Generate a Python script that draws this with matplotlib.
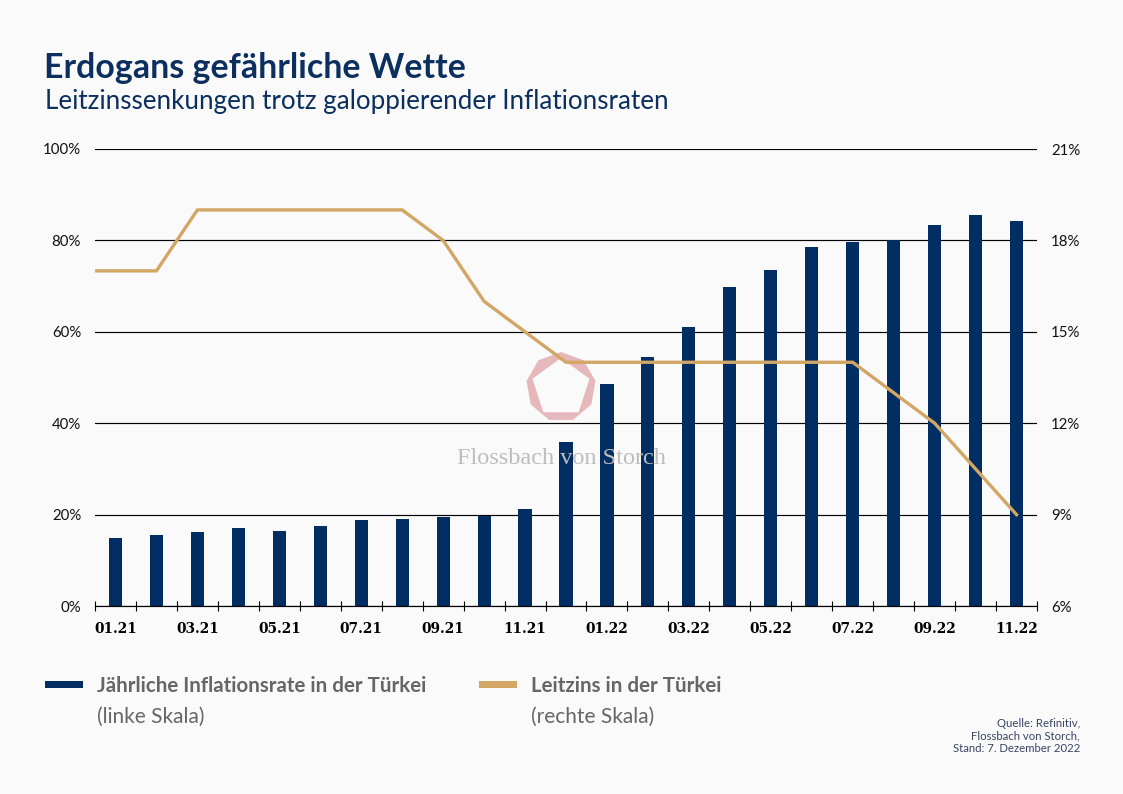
import numpy as np
import matplotlib.pyplot as plt
from matplotlib.patches import RegularPolygon, Rectangle
from matplotlib.transforms import IdentityTransform

# Daten
months = ["01.21", "02.21", "03.21", "04.21", "05.21", "06.21", "07.21", "08.21",
          "09.21", "10.21", "11.21", "12.21", "01.22", "02.22", "03.22", "04.22",
          "05.22", "06.22", "07.22", "08.22", "09.22", "10.22", "11.22"]
inflation = [14.9, 15.6, 16.1, 17.1, 16.5, 17.4, 18.9, 19.1, 19.5, 19.8, 21.2, 35.9,
             48.6, 54.4, 61.1, 69.9, 73.5, 78.5, 79.6, 80.0, 83.4, 85.5, 84.3]
leitzins = [17, 17, 19, 19, 19, 19, 19, 19, 18, 16, 15, 14,
            14, 14, 14, 14, 14, 14, 14, 13, 12, 10.5, 9]
left_ticks = [0, 20, 40, 60, 80, 100]
right_ticks = [6, 9, 12, 15, 18, 21]

navy = "#002d62"
gold = "#d2a664"
bg = "#fafafa"
W, H = 1123, 794

plt.rcParams["font.family"] = ["Lato", "DejaVu Sans"]

fig = plt.figure(figsize=(W / 100, H / 100), dpi=100, facecolor=bg)
ax = fig.add_axes([95 / W, 1 - 606 / H, 942 / W, 457 / H], facecolor=bg)
x = np.arange(len(months))

# Wasserzeichen
ax.add_patch(RegularPolygon((561, H - 387), 9, radius=35, color="#e6b8bb", lw=0,
                            transform=IdentityTransform(), zorder=0.5, clip_on=False))
ax.add_patch(RegularPolygon((561, H - 388), 5, radius=30, color=bg, lw=0,
                            transform=IdentityTransform(), zorder=0.6, clip_on=False))
fig.text(561 / W, 1 - 458.5 / H, "Flossbach von Storch", color="#bdbdbd", fontsize=17.5,
         family="Liberation Serif", ha="center", va="center", zorder=0.1)
ax.patch.set_alpha(0)

ax.bar(x, inflation, width=0.32, color=navy, zorder=2)
ax.set_xlim(-0.5, len(months) - 0.5)
ax.set_ylim(0, 100)
ax.set_yticks(left_ticks)
ax.set_yticklabels([f"{v}%" for v in left_ticks])
ax.grid(axis="y", color="black", lw=0.85, zorder=1)
ax.set_axisbelow(True)
ax.tick_params(axis="y", length=0, pad=10, labelsize=10.8, labelcolor="#111111")

ax.set_xticks(x[::2])
ax.set_xticklabels(months[::2], family="DejaVu Serif", fontweight="bold", fontsize=9.9)
ax.set_xticks(np.arange(len(months) + 1) - 0.5, minor=True)
ax.tick_params(axis="x", which="major", length=0, pad=11.5)
ax.tick_params(axis="x", which="minor", length=7, width=0.8, direction="inout")

for s in ["top", "left", "right"]:
    ax.spines[s].set_visible(False)
ax.spines["bottom"].set_linewidth(0.85)

# Leitzins auf der rechten Skala, links bis an den Achsenrand gezogen
ax2 = ax.twinx()
ax2.plot(np.r_[ax.get_xlim()[0], x], [leitzins[0]] + leitzins, color=gold, lw=2.4,
         solid_joinstyle="miter", zorder=3)
ax2.set_ylim(6, 21)
ax2.set_yticks(right_ticks)
ax2.set_yticklabels([f"{v}%" for v in right_ticks])
ax2.tick_params(axis="y", length=0, pad=10, labelsize=10.8, labelcolor="#111111")
for s in ax2.spines.values():
    s.set_visible(False)

# Titel
fig.text(44 / W, 1 - 68.5 / H, "Erdogans gefährliche Wette", color="#0b2f5e", fontsize=24.4,
         fontweight="bold", va="center")
fig.text(45 / W, 1 - 101.5 / H, "Leitzinssenkungen trotz galoppierender Inflationsraten",
         color="#0b2f5e", fontsize=18.7, va="center")

# Legende
grey = "#666666"
fig.add_artist(Rectangle((45 / W, 1 - 688 / H), 38 / W, 7 / H, color=navy, lw=0,
                         transform=fig.transFigure))
fig.add_artist(Rectangle((479 / W, 1 - 688 / H), 38 / W, 7 / H, color=gold, lw=0,
                         transform=fig.transFigure))
fig.text(97 / W, 1 - 686 / H, "Jährliche Inflationsrate in der Türkei", color=grey,
         fontsize=14.8, fontweight="bold", va="center")
fig.text(97 / W, 1 - 717 / H, "(linke Skala)", color=grey, fontsize=15, va="center")
fig.text(531 / W, 1 - 686 / H, "Leitzins in der Türkei", color=grey, fontsize=14.8,
         fontweight="bold", va="center")
fig.text(531 / W, 1 - 717 / H, "(rechte Skala)", color=grey, fontsize=15, va="center")

# Quelle
fig.text(1080 / W, 1 - 736 / H, "Quelle: Refinitiv,\nFlossbach von Storch,\nStand: 7. Dezember 2022",
         color="#3a4566", fontsize=8.2, ha="right", va="center", linespacing=1.15)

fig.savefig("out.png", dpi=100, facecolor=bg)
